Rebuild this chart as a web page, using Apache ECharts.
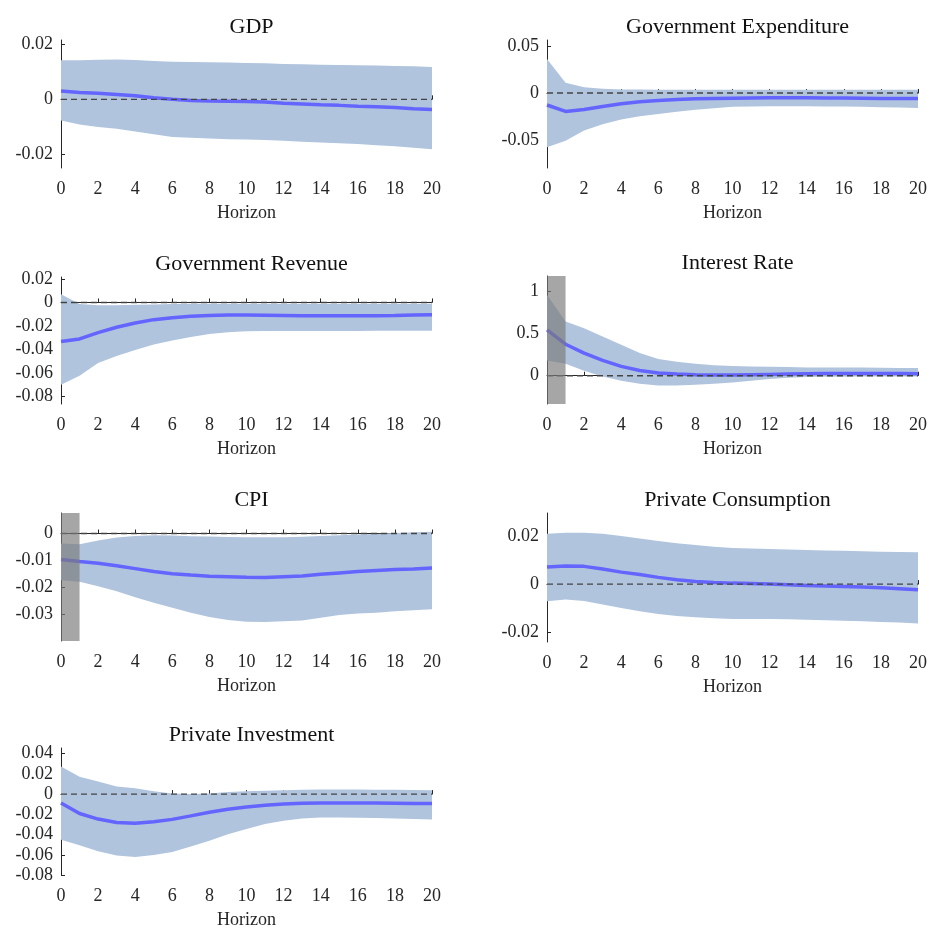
<!DOCTYPE html>
<html>
<head>
<meta charset="utf-8">
<script src="https://cdn.jsdelivr.net/npm/echarts@6/dist/echarts.min.js"></script>
<style>
  html, body { margin: 0; padding: 0; background: #fff; }
  #chart { width: 930px; height: 930px; }
</style>
</head>
<body>
<div id="chart"></div>
<script>
const horizon = [0, 1, 2, 3, 4, 5, 6, 7, 8, 9, 10, 11, 12, 13, 14, 15, 16, 17, 18, 19, 20]

const titles = ['GDP', 'Government Expenditure', 'Government Revenue', 'Interest Rate', 'CPI', 'Private Consumption', 'Private Investment']

const gdpMid = [0.0030, 0.0025, 0.0022, 0.0018, 0.0013, 0.0006, 0.0000, -0.0004, -0.0006, -0.0007, -0.0008, -0.0010, -0.0014, -0.0017, -0.0020, -0.0022, -0.0025, -0.0027, -0.0030, -0.0034, -0.0037]
const gdpHi = [0.0142, 0.0142, 0.0144, 0.0145, 0.0143, 0.0140, 0.0137, 0.0136, 0.0135, 0.0134, 0.0132, 0.0131, 0.0129, 0.0128, 0.0126, 0.0125, 0.0124, 0.0123, 0.0121, 0.0120, 0.0118]
const gdpLo = [-0.0077, -0.0092, -0.0101, -0.0107, -0.0117, -0.0127, -0.0137, -0.0140, -0.0143, -0.0145, -0.0146, -0.0148, -0.0151, -0.0154, -0.0157, -0.0160, -0.0163, -0.0167, -0.0171, -0.0176, -0.0182]

const gexpMid = [-0.0128, -0.0197, -0.0176, -0.0145, -0.0114, -0.0093, -0.0079, -0.0069, -0.0062, -0.0058, -0.0055, -0.0053, -0.0052, -0.0052, -0.0052, -0.0053, -0.0054, -0.0056, -0.0058, -0.0059, -0.0059]
const gexpHi = [0.0362, 0.0110, 0.0062, 0.0045, 0.0038, 0.0036, 0.0034, 0.0034, 0.0034, 0.0034, 0.0034, 0.0034, 0.0034, 0.0034, 0.0034, 0.0034, 0.0034, 0.0034, 0.0034, 0.0034, 0.0034]
const gexpLo = [-0.0580, -0.0510, -0.0400, -0.0334, -0.0283, -0.0248, -0.0224, -0.0200, -0.0179, -0.0162, -0.0148, -0.0143, -0.0141, -0.0141, -0.0141, -0.0143, -0.0145, -0.0148, -0.0152, -0.0156, -0.0159]

const grevMid = [-0.0332, -0.0310, -0.0256, -0.0211, -0.0175, -0.0146, -0.0130, -0.0118, -0.0110, -0.0107, -0.0107, -0.0108, -0.0110, -0.0112, -0.0113, -0.0113, -0.0113, -0.0112, -0.0110, -0.0107, -0.0104]
const grevHi = [0.0070, -0.0014, -0.0023, -0.0023, -0.0020, -0.0017, -0.0014, -0.0012, -0.0011, -0.0011, -0.0011, -0.0011, -0.0011, -0.0011, -0.0011, -0.0011, -0.0011, -0.0011, -0.0011, -0.0011, -0.0011]
const grevLo = [-0.0699, -0.0623, -0.0515, -0.0454, -0.0403, -0.0358, -0.0324, -0.0293, -0.0268, -0.0254, -0.0245, -0.0243, -0.0242, -0.0242, -0.0242, -0.0242, -0.0242, -0.0241, -0.0240, -0.0240, -0.0240]

const rateMid = [0.545, 0.375, 0.269, 0.182, 0.111, 0.063, 0.032, 0.020, 0.012, 0.008, 0.008, 0.012, 0.016, 0.020, 0.024, 0.026, 0.028, 0.028, 0.028, 0.026, 0.024]
const rateHi = [0.960, 0.644, 0.565, 0.466, 0.368, 0.269, 0.200, 0.166, 0.142, 0.126, 0.115, 0.110, 0.107, 0.103, 0.099, 0.099, 0.099, 0.097, 0.095, 0.093, 0.091]
const rateLo = [0.182, 0.142, 0.059, -0.008, -0.059, -0.095, -0.115, -0.117, -0.107, -0.095, -0.079, -0.059, -0.040, -0.024, -0.016, -0.013, -0.012, -0.010, -0.008, -0.008, -0.008]

const cpiMid = [-0.0096, -0.0104, -0.0110, -0.0119, -0.0130, -0.0141, -0.0149, -0.0154, -0.0158, -0.0160, -0.0162, -0.0163, -0.0160, -0.0157, -0.0151, -0.0146, -0.0141, -0.0137, -0.0133, -0.0131, -0.0128]
const cpiHi = [-0.0037, -0.0040, -0.0026, -0.0015, -0.0009, -0.0006, -0.0007, -0.0010, -0.0011, -0.0013, -0.0014, -0.0014, -0.0014, -0.0012, -0.0009, -0.0006, -0.0004, -0.0002, 0.0002, 0.0005, 0.0007]
const cpiLo = [-0.0173, -0.0179, -0.0195, -0.0214, -0.0236, -0.0256, -0.0275, -0.0293, -0.0309, -0.0320, -0.0327, -0.0328, -0.0325, -0.0322, -0.0312, -0.0302, -0.0296, -0.0293, -0.0288, -0.0284, -0.0280]

const consMid = [0.0071, 0.0076, 0.0074, 0.0063, 0.0050, 0.0040, 0.0028, 0.0018, 0.0011, 0.0007, 0.0004, 0.0002, 0.0000, -0.0003, -0.0006, -0.0008, -0.0010, -0.0012, -0.0015, -0.0019, -0.0024]
const consHi = [0.0210, 0.0214, 0.0214, 0.0210, 0.0201, 0.0190, 0.0180, 0.0171, 0.0163, 0.0156, 0.0151, 0.0149, 0.0147, 0.0144, 0.0142, 0.0140, 0.0139, 0.0137, 0.0135, 0.0134, 0.0133]
const consLo = [-0.0072, -0.0064, -0.0071, -0.0085, -0.0100, -0.0114, -0.0125, -0.0133, -0.0139, -0.0143, -0.0146, -0.0146, -0.0146, -0.0147, -0.0149, -0.0151, -0.0153, -0.0155, -0.0158, -0.0161, -0.0165]

const invMid = [-0.0088, -0.0192, -0.0247, -0.0280, -0.0289, -0.0273, -0.0250, -0.0215, -0.0179, -0.0150, -0.0127, -0.0111, -0.0098, -0.0091, -0.0088, -0.0088, -0.0088, -0.0089, -0.0091, -0.0093, -0.0094]
const invHi = [0.0273, 0.0172, 0.0124, 0.0075, 0.0059, 0.0029, 0.0007, 0.0000, 0.0007, 0.0020, 0.0029, 0.0034, 0.0039, 0.0043, 0.0046, 0.0046, 0.0046, 0.0044, 0.0042, 0.0040, 0.0039]
const invLo = [-0.0452, -0.0507, -0.0566, -0.0608, -0.0621, -0.0602, -0.0572, -0.0517, -0.0462, -0.0397, -0.0345, -0.0296, -0.0263, -0.0241, -0.0231, -0.0231, -0.0234, -0.0237, -0.0241, -0.0245, -0.0250]

// y tick values per panel
const gdpTicks = [-0.02, 0, 0.02]
const gexpTicks = [-0.05, 0, 0.05]
const grevTicks = [-0.08, -0.06, -0.04, -0.02, 0, 0.02]
const rateTicks = [0, 0.5, 1]
const cpiTicks = [-0.03, -0.02, -0.01, 0]
const consTicks = [-0.02, 0, 0.02]
const invTicks = [-0.08, -0.06, -0.04, -0.02, 0, 0.02, 0.04]

// shock period shaded on the policy-rate and CPI panels
const shockStart = 0
const shockEnd = 1

const mids = [gdpMid, gexpMid, grevMid, rateMid, cpiMid, consMid, invMid]
const his = [gdpHi, gexpHi, grevHi, rateHi, cpiHi, consHi, invHi]
const los = [gdpLo, gexpLo, grevLo, rateLo, cpiLo, consLo, invLo]
const ticks = [gdpTicks, gexpTicks, grevTicks, rateTicks, cpiTicks, consTicks, invTicks]
const yRange = [[-0.025, 0.0216], [-0.08, 0.0565], [-0.0862, 0.0216], [-0.336, 1.186], [-0.0398, 0.0076], [-0.0242, 0.0297], [-0.08, 0.0456]]
const shockPanels = [3, 4]

const layout = [
  { left: 61, top: 40, height: 128 },
  { left: 547, top: 40, height: 128 },
  { left: 61, top: 277, height: 127 },
  { left: 547, top: 276, height: 128 },
  { left: 61, top: 513, height: 128 },
  { left: 547, top: 513, height: 129 },
  { left: 61, top: 748, height: 130 }
]

const font = 'Liberation Serif'
const ink = '#262626'

const chart = echarts.init(document.getElementById('chart'))

const grid = layout.map(g => ({ left: g.left, top: g.top, width: 371, height: g.height }))

const title = titles.map((t, i) => ({
  text: t,
  left: layout[i].left + 185.5,
  top: layout[i].top - 29,
  textAlign: 'center',
  textStyle: { fontFamily: font, fontSize: 22, fontWeight: 'normal', color: '#111' }
}))

const xAxis = titles.map((t, i) => ({
  type: 'value',
  gridIndex: i,
  min: 0,
  max: 20,
  interval: 2,
  name: 'Horizon',
  nameLocation: 'middle',
  nameGap: 36,
  nameTextStyle: { fontFamily: font, fontSize: 18, color: ink },
  axisLine: { lineStyle: { color: ink, width: 1 } },
  axisTick: { inside: true, length: 4, lineStyle: { color: ink } },
  axisLabel: { fontFamily: font, fontSize: 18, color: ink, margin: 12 },
  splitLine: { show: false }
}))

const yAxis = titles.map((t, i) => ({
  type: 'value',
  gridIndex: i,
  min: yRange[i][0],
  max: yRange[i][1],
  axisLine: { show: true, lineStyle: { color: ink, width: 1 } },
  axisTick: { show: true, inside: true, length: 4, customValues: ticks[i], lineStyle: { color: ink } },
  axisLabel: {
    fontFamily: font, fontSize: 18, color: ink, margin: 8,
    customValues: ticks[i],
    formatter: v => String(+v.toFixed(3))
  },
  splitLine: { show: false }
}))

const pairs = arr => horizon.map((h, k) => [h, arr[k]])

const series = []
titles.forEach((t, i) => {
  // credible band as one polygon, lower edge forward then upper edge back
  series.push({
    type: 'custom', xAxisIndex: i, yAxisIndex: i,
    data: horizon.map((h, k) => [h, los[i][k], his[i][k]]),
    encode: { x: 0, y: [1, 2] },
    silent: true, z: 1,
    renderItem: (params, api) => {
      if (params.dataIndex !== 0) return
      const lower = horizon.map((h, k) => api.coord([h, los[i][k]]))
      const upper = horizon.map((h, k) => api.coord([h, his[i][k]])).reverse()
      return {
        type: 'polygon',
        shape: { points: lower.concat(upper) },
        style: { fill: '#b0c4de' }
      }
    }
  })
  series.push({
    type: 'line', xAxisIndex: i, yAxisIndex: i,
    data: pairs(mids[i]),
    symbol: 'none', lineStyle: { color: '#6464ff', width: 3.5 }, z: 3
  })
  series.push({
    type: 'line', xAxisIndex: i, yAxisIndex: i,
    data: [[0, 0], [20, 0]],
    symbol: 'none', lineStyle: { color: '#444', width: 1.4, type: [6, 4] }, z: 4
  })
  if (shockPanels.includes(i)) {
    series.push({
      type: 'custom', xAxisIndex: i, yAxisIndex: i,
      data: [[shockStart, shockEnd]],
      silent: true, z: 10,
      renderItem: (params, api) => {
        const p0 = api.coord([api.value(0), yRange[i][1]])
        const p1 = api.coord([api.value(1), yRange[i][0]])
        return {
          type: 'rect',
          shape: { x: p0[0], y: p0[1], width: p1[0] - p0[0], height: p1[1] - p0[1] },
          style: { fill: 'rgba(122,122,122,0.67)' }
        }
      }
    })
  }
})

chart.setOption({
  animation: false,
  title,
  grid,
  xAxis,
  yAxis,
  series
})
</script>
</body>
</html>
